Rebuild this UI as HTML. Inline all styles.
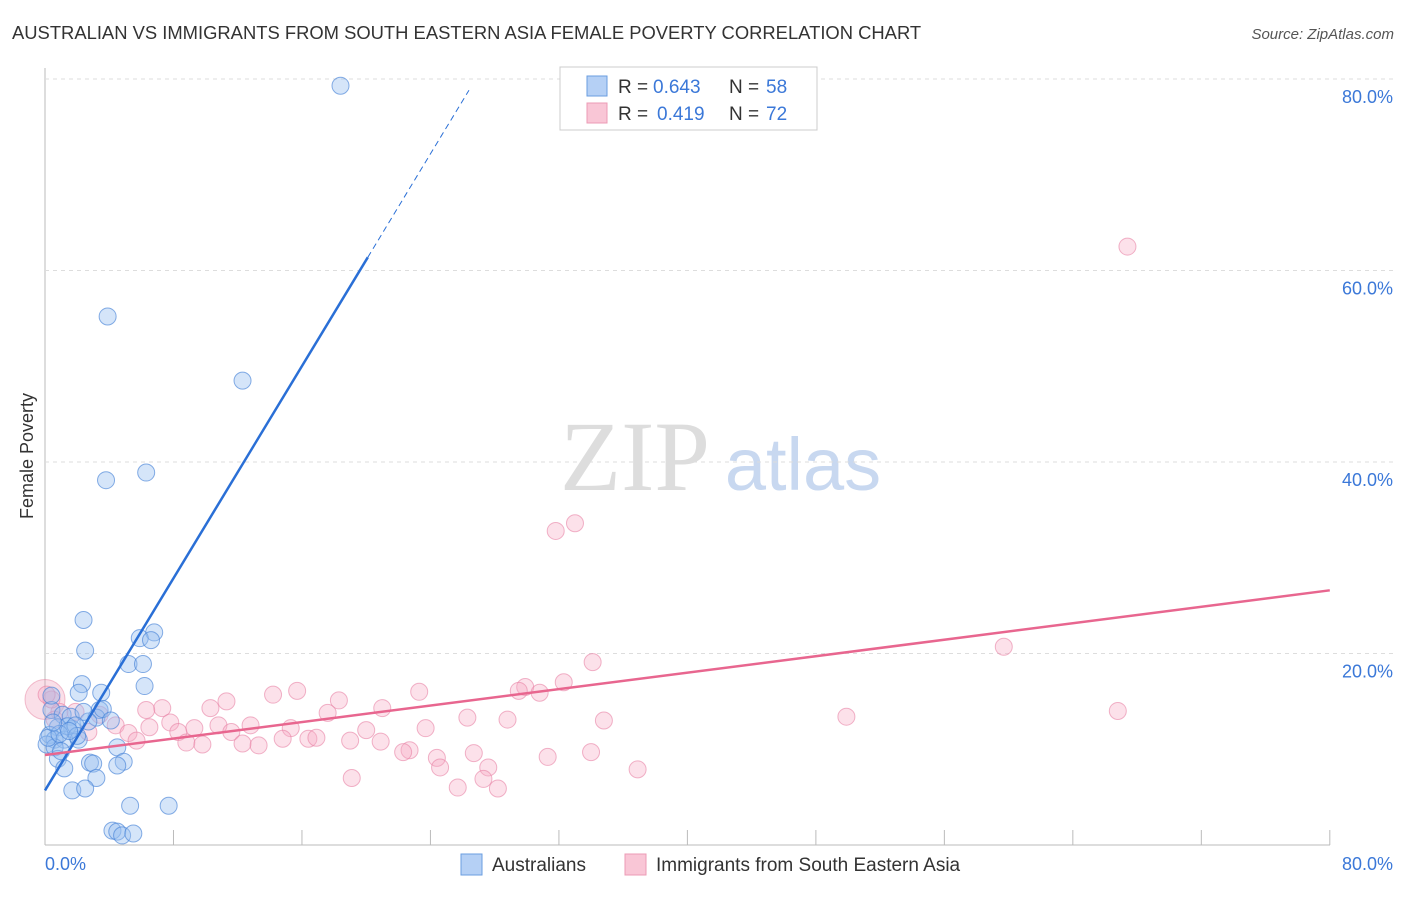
<!DOCTYPE html>
<html><head><meta charset="utf-8"><style>
body{margin:0;background:#fff;font-family:"Liberation Sans",sans-serif;}
</style></head><body>
<svg id="chart" width="1406" height="892" xmlns="http://www.w3.org/2000/svg">
<text x="12" y="39" font-size="18.4" fill="#333">AUSTRALIAN VS IMMIGRANTS FROM SOUTH EASTERN ASIA FEMALE POVERTY CORRELATION CHART</text>
<text x="1394" y="39" font-size="15" fill="#555" font-style="italic" text-anchor="end">Source: ZipAtlas.com</text>
<text x="33" y="456" font-size="18" fill="#333" transform="rotate(-90 33 456)" text-anchor="middle">Female Poverty</text>
<g><text x="635" y="490" font-size="100" font-family="Liberation Serif,serif" fill="#ddd" text-anchor="middle">ZIP</text><text x="803" y="490" font-size="74" fill="#c8d8f0" text-anchor="middle">atlas</text></g>
<g id="grid"></g><g id="marks"></g>
<g>
<rect x="560" y="67" width="257" height="63" fill="#fff" stroke="#ccc"/>
<rect x="587" y="76" width="20" height="20" fill="#b5d0f5" stroke="#6a9ee0"/>
<rect x="587" y="103" width="20" height="20" fill="#f9c6d6" stroke="#ec9bb5"/>
<text x="618" y="93" font-size="19" fill="#333">R =</text><text x="653" y="93" font-size="19" fill="#3b78d8">0.643</text>
<text x="729" y="93" font-size="19" fill="#333">N =</text><text x="766" y="93" font-size="19" fill="#3b78d8">58</text>
<text x="618" y="120" font-size="19" fill="#333">R =</text><text x="657" y="120" font-size="19" fill="#3b78d8">0.419</text>
<text x="729" y="120" font-size="19" fill="#333">N =</text><text x="766" y="120" font-size="19" fill="#3b78d8">72</text>
</g>
<g>
<rect x="461" y="854" width="21" height="21" fill="#b5d0f5" stroke="#6a9ee0"/>
<text x="492" y="871" font-size="19" fill="#333">Australians</text>
<rect x="625" y="854" width="21" height="21" fill="#f9c6d6" stroke="#ec9bb5"/>
<text x="656" y="871" font-size="19" fill="#333">Immigrants from South Eastern Asia</text>
</g>
</svg>
<script>
const xTicks=[0,8,16,24,32,40,48,56,64,72,80];
const yTicks=[20,40,60,80];
const blueX=[18.4,3.9,12.3,6.3,3.8,2.4,2.5,6.8,5.9,6.6,5.2,6.1,2.3,6.2,2.1,3.5,0.4,1.1,1.6,3.4,3.2,0.8,1.7,2.7,0.3,0.6,1.2,2.1,0.1,0.6,4.5,0.8,2.8,3.0,4.9,4.5,1.2,3.2,1.7,2.5,5.3,7.7,4.2,4.5,4.8,5.5,0.4,1.4,2.4,0.2,1.9,3.6,0.9,2.0,1.0,4.1,0.5,1.5];
const blueY=[79.3,55.2,48.5,38.9,38.1,23.5,20.3,22.2,21.6,21.4,18.9,18.9,16.8,16.6,15.9,15.9,14.1,13.6,13.4,14.1,13.3,12.3,12.1,12.9,11.5,11.0,11.0,11.0,10.5,10.2,10.2,9.0,8.6,8.5,8.7,8.3,8.0,7.0,5.7,5.9,4.1,4.1,1.5,1.4,1.0,1.2,15.6,12.4,13.9,11.2,12.5,14.2,11.6,11.4,9.8,13.0,12.8,11.9];
const pinkX=[67.4,31.8,33.0,59.7,34.1,66.8,49.9,32.3,29.9,30.8,29.5,23.3,15.7,14.2,18.3,11.3,7.3,6.3,10.3,21.0,17.6,26.3,28.8,34.8,23.7,20.0,15.3,10.8,9.3,7.8,12.8,11.6,8.3,6.5,4.4,5.2,2.7,5.7,8.8,9.8,12.3,13.3,14.8,16.4,16.9,19.0,20.9,22.7,22.3,24.4,26.7,31.3,34.0,36.9,27.6,24.6,19.1,25.7,27.3,28.2,0.9,1.9,3.4,0.6,0.4,0.1];
const pinkY=[62.5,32.8,33.6,20.7,19.1,14.0,13.4,17.0,16.5,15.9,16.1,16.0,16.1,15.7,15.1,15.0,14.3,14.1,14.3,14.3,13.8,13.3,13.1,13.0,12.2,12.0,12.2,12.5,12.2,12.8,12.5,11.8,11.8,12.3,12.5,11.7,11.8,10.9,10.7,10.5,10.6,10.4,11.1,11.1,11.2,10.9,10.8,9.9,9.7,9.1,9.6,9.2,9.7,7.9,8.1,8.1,7.0,6.0,6.9,5.9,13.9,13.9,13.6,13.1,15.2,15.7];
const blueFit=[5.7,2.77];   // intercept, slope
const pinkFit=[9.4,0.215];
const X=v=>45+v*16.06, Y=v=>845-v*9.575;
const ns="http://www.w3.org/2000/svg";
const grid=document.getElementById('grid'), marks=document.getElementById('marks');
function mk(tag,attrs,parent){const e=document.createElementNS(ns,tag);for(const k in attrs)e.setAttribute(k,attrs[k]);parent.appendChild(e);return e;}
mk('line',{x1:45,y1:68,x2:45,y2:845,stroke:'#bbb'},grid);
mk('line',{x1:45,y1:845,x2:1330,y2:845,stroke:'#bbb'},grid);
yTicks.forEach(t=>{const l=mk('line',{x1:45,x2:1394,y1:Y(t),y2:Y(t),stroke:'#ddd','stroke-dasharray':'4,4'},grid);


const tx=mk('text',{x:1393,y:Y(t)+24,'font-size':18,fill:'#3b78d8','text-anchor':'end'},grid);tx.textContent=t.toFixed(1)+'%';

});
xTicks.forEach(t=>{const l=mk('line',{x1:X(t),x2:X(t),y1:830,y2:845,stroke:'#bbb'},grid);

});
[[0,45,'start'],[80,1393,'end']].forEach(([t,x,a])=>{const tx=mk('text',{x:x,y:870,'font-size':18,fill:'#3b78d8','text-anchor':a},grid);tx.textContent=t.toFixed(1)+'%';

});
mk('circle',{cx:X(0),cy:Y(15.2),r:20,fill:'rgba(240,150,180,0.3)',stroke:'rgba(230,130,160,0.5)'},marks);
pinkX.forEach((x,i)=>{const c=mk('circle',{cx:X(x),cy:Y(pinkY[i]),r:8.5,fill:'rgba(245,170,195,0.35)',stroke:'rgba(232,130,165,0.6)'},marks);

});
blueX.forEach((x,i)=>{const c=mk('circle',{cx:X(x),cy:Y(blueY[i]),r:8.5,fill:'rgba(150,190,240,0.4)',stroke:'rgba(70,130,215,0.65)'},marks);

});
const bx1=20.1,bx2=26.4;
const bl=mk('line',{x1:X(0),y1:Y(blueFit[0]),x2:X(bx1),y2:Y(blueFit[0]+blueFit[1]*bx1),stroke:'#2a6fd6','stroke-width':2.5},marks);


const bd=mk('line',{x1:X(bx1),y1:Y(blueFit[0]+blueFit[1]*bx1),x2:X(bx2),y2:Y(blueFit[0]+blueFit[1]*bx2),stroke:'#2a6fd6','stroke-width':1,'stroke-dasharray':'6,4'},marks);


const pl=mk('line',{x1:X(0),y1:Y(pinkFit[0]),x2:X(80),y2:Y(pinkFit[0]+pinkFit[1]*80),stroke:'#e8668f','stroke-width':2.5},marks);


</script>
</body></html>
